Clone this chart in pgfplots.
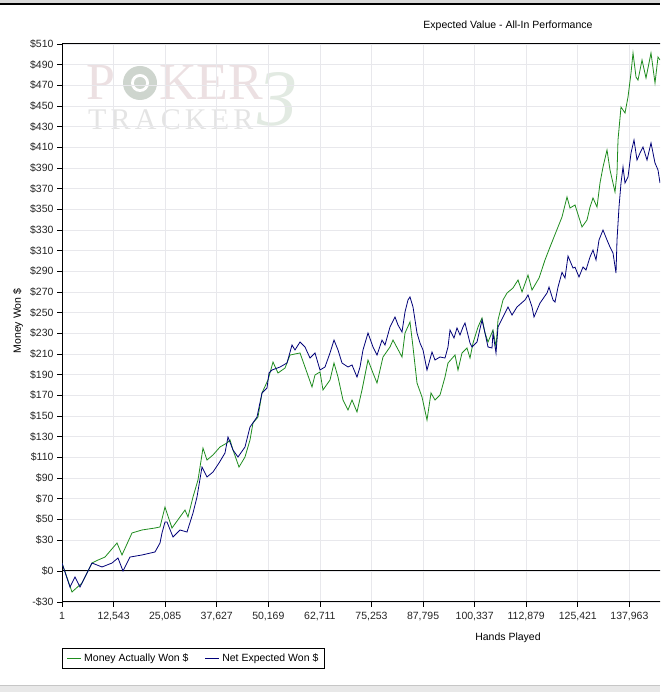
\documentclass[border=0pt]{standalone}
\usepackage{fontspec}
\setmainfont{Liberation Sans}
\newfontfamily\wmserif{Liberation Serif}
\newfontfamily\wmtrack{Liberation Serif}[LetterSpace=14]
\usepackage{pgfplots}
\pgfplotsset{compat=1.18}

\definecolor{evgreen}{RGB}{30,140,30}
\definecolor{evblue}{RGB}{0,0,120}
\definecolor{gridgray}{RGB}{232,232,236}
\definecolor{wmpink}{RGB}{236,224,226}
\definecolor{wmgray}{RGB}{228,228,228}
\definecolor{wmgreen}{RGB}{226,234,226}

\newcommand\uifont{\fontsize{10.5}{12}\selectfont}

\begin{document}
\begin{tikzpicture}
\useasboundingbox (0pt,0pt) rectangle (660pt,692pt);
\clip (0pt,0pt) rectangle (660pt,692pt);
\fill[white] (0pt,0pt) rectangle (660pt,692pt);
% window frame strips
\fill[gray!30] (0pt,689pt) rectangle (660pt,692pt);
\draw[black, line width=1.5pt] (0pt,688pt) -- (660pt,688pt);
\fill[gray!18] (0pt,0pt) rectangle (660pt,6pt);
\draw[gray!45, line width=1pt] (0pt,6pt) -- (660pt,6pt);

% watermark
\node[anchor=base west, inner sep=0pt, text=wmgreen, font=\wmserif\itshape\fontsize{80}{80}\selectfont] at (257pt,566pt) {3};
\node[anchor=base west, inner sep=0pt, text=wmpink, font=\wmserif\fontsize{52}{52}\selectfont] at (86pt,592pt) {P};
\fill[wmgreen!80!gray] (140pt,609pt) circle (17pt);
\fill[white] (140pt,609pt) circle (9pt);
\fill[wmgreen!80!gray] (140pt,609pt) circle (6pt);
\node[anchor=base west, inner sep=0pt, text=wmpink, font=\wmserif\fontsize{52}{52}\selectfont] at (159pt,592pt) {KER};
\node[anchor=base west, inner sep=0pt, text=wmgray, font=\wmtrack\fontsize{30}{30}\selectfont] at (88pt,562pt) {TRACKER};

\begin{axis}[
  at={(62pt,90pt)}, anchor=south west,
  scale only axis, width=610pt, height=558pt,
  xmin=1, xmax=148322, ymin=-30, ymax=510,
  scaled x ticks=false,
  axis line style={black, line width=1pt},
  tick align=outside, major tick length=5pt,
  tick style={black, line width=0.8pt},
  xtick pos=left, ytick pos=left,
  grid=major, major grid style={gridgray, line width=0.8pt},
  xtick={1,12543,25085,37627,50169,62711,75253,87795,100337,112879,125421,137963},
  xticklabels={1,{12,543},{25,085},{37,627},{50,169},{62,711},{75,253},{87,795},{100,337},{112,879},{125,421},{137,963}},
  ytick={-30,0,30,50,70,90,110,130,150,170,190,210,230,250,270,290,310,330,350,370,390,410,430,450,470,490,510},
  yticklabels={-\$30,\$0,\$30,\$50,\$70,\$90,\$110,\$130,\$150,\$170,\$190,\$210,\$230,\$250,\$270,\$290,\$310,\$330,\$350,\$370,\$390,\$410,\$430,\$450,\$470,\$490,\$510},
  tick label style={font=\uifont, text=black!85},
  xticklabel style={yshift=-2pt},
  legend style={at={(0,-0.0824)}, anchor=north west, draw=black, line width=0.8pt,
    font=\uifont, inner xsep=4pt, inner ysep=3.5pt,
    /tikz/every even column/.append style={column sep=14pt}},
  legend columns=2,
  legend image code/.code={\draw[#1, line width=1.8pt] (0pt,0pt) -- (14pt,0pt);},
]
\draw[black, line width=1pt] (axis cs:1,0) -- (axis cs:148322,0);

\addplot[evgreen, line width=0.8pt] table {
x y
1 7.7
2432 -20.3
4863 -11.6
7295 7.7
8753 10.6
10455 13.5
13373 27.1
14589 15.5
17021 36.8
19452 39.7
22613 41.6
23829 42.6
25044 61.9
26747 41.6
28692 52.3
29907 59.0
30637 52.3
31853 71.6
33068 88.1
34284 119.0
35257 107.4
36716 112.3
38418 120.0
40120 123.9
40849 126.8
41579 117.1
43038 100.6
44496 110.3
45712 126.8
46442 143.2
47657 149.0
48630 172.3
50089 184.9
51305 202.2
52520 191.6
54222 196.4
55438 209.0
57870 211.0
59085 197.4
60788 178.1
61517 189.7
62733 192.6
63462 175.2
65164 184.8
66137 201.3
67109 187.7
68325 165.5
69541 155.8
70514 165.5
71729 153.9
72945 175.2
74404 204.2
75620 191.6
76592 181.9
77322 194.5
78051 207.1
79753 216.8
80483 223.5
82671 207.1
83400 230.3
84616 241.0
85346 216.8
86318 181.9
87534 168.4
88750 146.1
89722 172.3
90695 165.5
91911 170.3
93126 187.7
93856 201.3
95558 209.0
96287 194.5
97260 211.0
98476 215.8
99205 206.1
99935 220.6
101150 236.1
102123 244.8
102852 230.3
103582 221.6
104798 233.2
105527 216.8
106013 242.9
107229 262.3
108202 269.0
109661 273.9
110876 281.6
111849 270.0
113308 286.4
114281 271.9
115983 283.5
117441 301.0
118657 313.5
119630 323.2
120603 332.9
121575 342.6
122791 361.9
123520 351.3
124736 354.2
126438 332.9
127654 339.7
128383 352.2
129113 361.0
130085 352.2
130815 375.5
131544 391.0
132517 407.4
133246 388.1
134462 366.8
134948 385.1
135191 417.1
135920 449.0
136893 443.2
137623 458.7
138352 481.9
138839 501.3
139568 478.0
140054 475.1
141027 494.5
141999 477.1
143215 501.3
144188 472.2
144917 497.4
145404 494.5
};
\addlegendentry{Money Actually Won \$}

\addplot[evblue, line width=0.8pt] table {
x y
1 7.7
1945 -15.5
3161 -5.8
4377 -15.5
7295 7.7
9726 3.9
12158 7.7
13616 12.6
14832 0
16534 13.5
19452 15.5
22613 18.4
23829 27.1
24315 36.8
25044 47.4
25531 47.4
26990 32.9
28692 39.7
30394 37.7
31853 56.1
32825 71.6
34041 100.6
35257 91.0
36716 95.8
38175 104.5
39633 114.2
40363 129.7
41579 117.1
42794 110.3
44496 120.0
45712 139.3
47414 149.0
48630 172.3
49846 177.1
50332 191.6
51062 194.5
53007 197.4
54709 201.3
55925 218.7
56654 213.9
57870 221.6
59085 216.8
60301 206.1
61517 211.0
62733 194.5
63948 197.4
65164 211.0
66137 223.5
67109 213.9
68082 201.3
69541 197.4
70514 199.4
71729 187.7
72460 197.4
73188 213.9
74404 230.3
75620 216.8
76592 209.0
77808 223.5
78538 218.7
79753 236.1
80969 245.8
81698 238.1
82671 231.3
83400 250.6
84130 262.3
84616 265.2
85346 255.5
86318 230.3
87048 220.6
87777 213.9
88750 194.5
89966 211.9
90695 204.2
91911 207.1
93126 206.1
93856 216.8
94342 233.2
95315 225.5
96044 235.2
96774 228.4
97503 236.1
97989 240.0
99205 220.6
99692 216.8
100907 221.6
102123 242.9
102852 230.3
103582 216.8
104555 215.8
104798 230.3
105527 211.0
106013 236.1
107229 245.8
108445 255.5
109418 247.7
110633 255.5
112578 262.3
113308 267.1
114281 255.5
114767 245.8
116226 259.3
117928 269.0
118414 274.8
119387 262.3
119873 260.3
120603 274.8
121575 289.0
122305 283.5
123034 304.8
124250 293.2
124736 294.0
125709 284.5
126681 294.2
127411 291.3
128383 303.9
129113 310.6
129842 301.0
130572 320.3
131544 330.0
132517 320.3
133246 313.5
133976 307.7
134705 288.4
134948 320.3
135434 352.2
135920 375.5
136407 391.0
136893 375.5
137623 381.3
138352 404.5
139082 417.1
139811 397.7
140541 404.5
141270 410.3
142242 397.7
143215 414.2
144188 394.8
144917 388.1
145404 375.5
};
\addlegendentry{Net Expected Won \$}
\end{axis}

\node[font=\uifont] at (508pt,666pt) {Expected Value - All-In Performance};
\node[font=\uifont] at (508pt,54pt) {Hands Played};
\node[font=\uifont, rotate=90] at (18pt,371pt) {Money Won \$};
\end{tikzpicture}
\end{document}
